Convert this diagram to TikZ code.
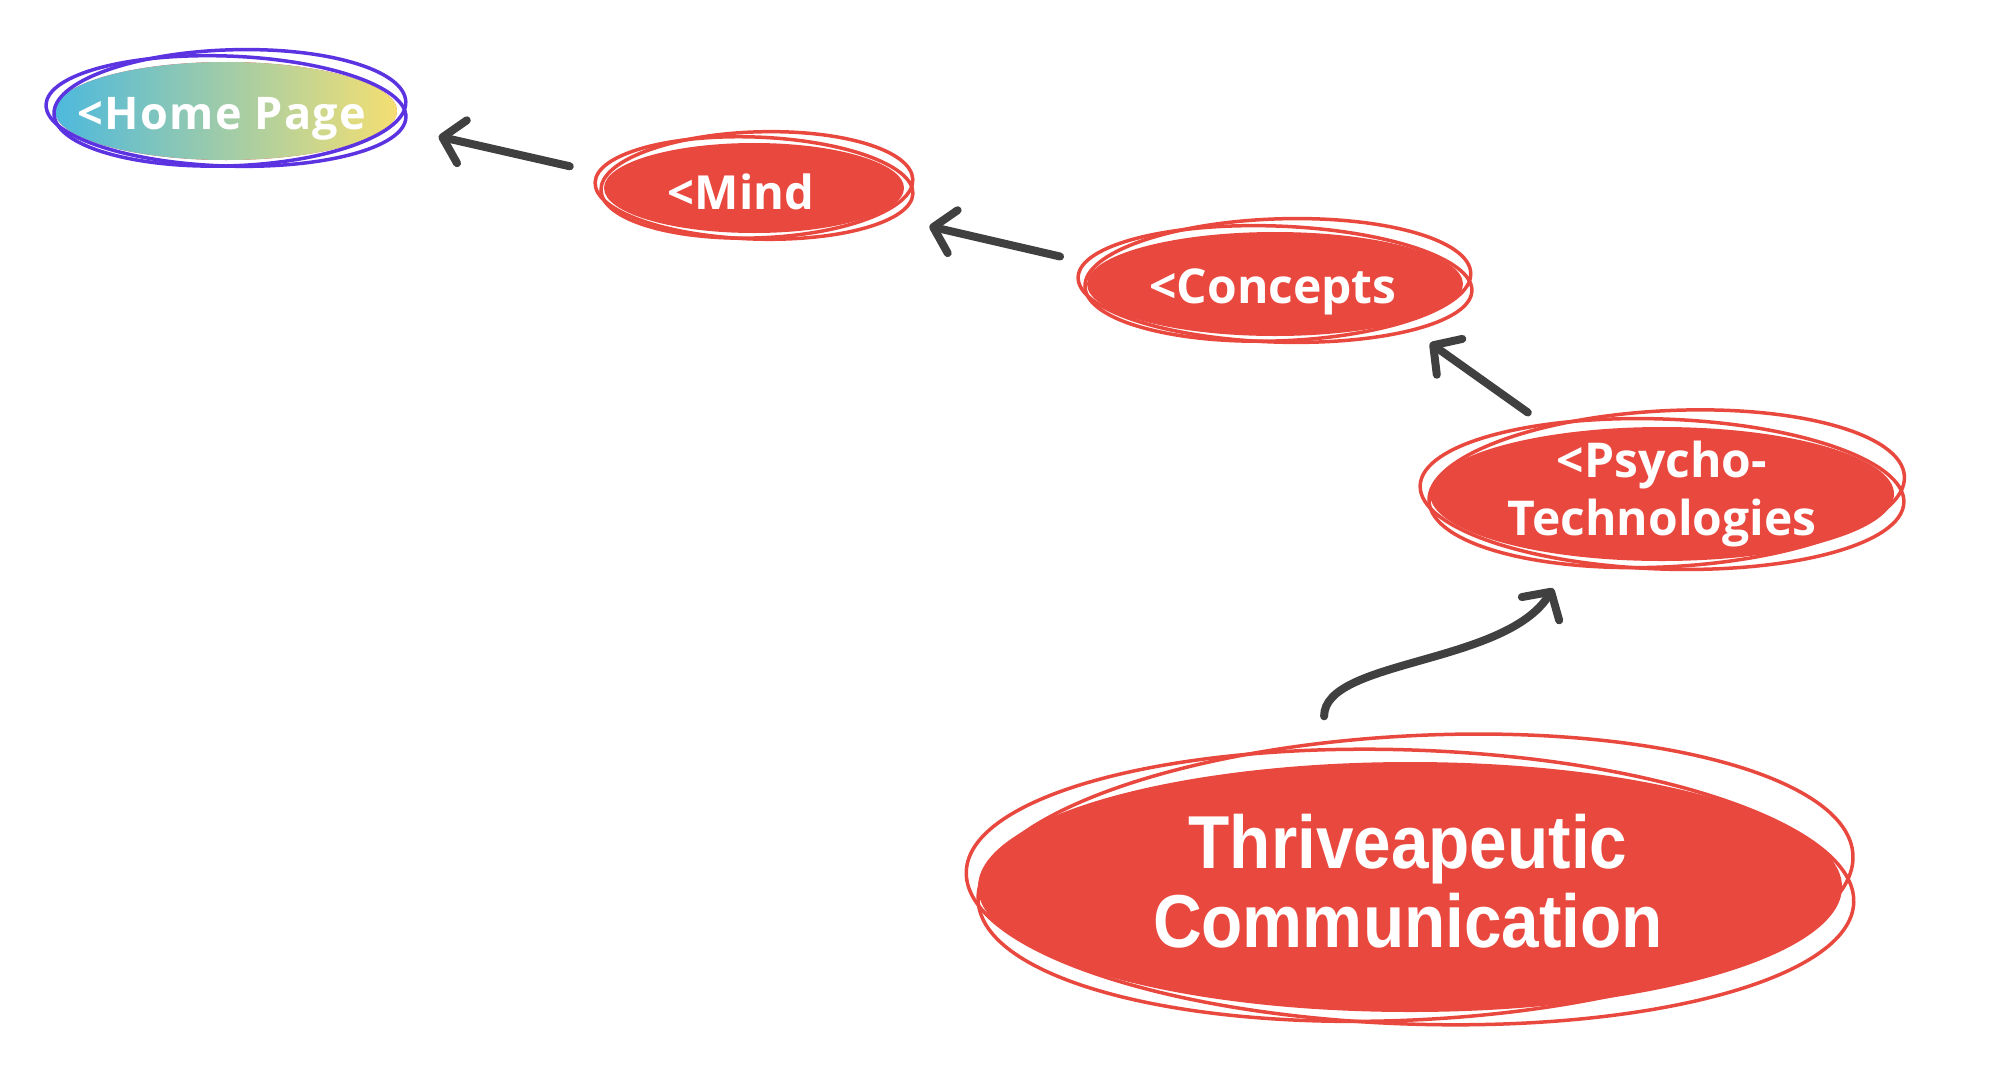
\documentclass[tikz,border=0pt]{standalone}
\usepackage{fontspec}
\setmainfont{Open Sans}
\newfontfamily\angosta[FakeStretch=0.9]{Liberation Sans}
\usetikzlibrary{arrows.meta,shapes.geometric}
\definecolor{rojo}{HTML}{E9483F}
\definecolor{morado}{HTML}{5B33E1}
\definecolor{cian}{HTML}{4DB9DD}
\definecolor{amarillo}{HTML}{F4DF72}
\definecolor{grafito}{HTML}{404040}

\begin{document}
\begin{tikzpicture}[x=1pt,y=-1pt,
    globo/.style={ellipse,inner sep=0pt,fill=rojo},
    trazo/.style={draw=rojo,line width=3.5pt},
    rotulo/.style={text=white,align=center,inner sep=0pt,
                   font=\bfseries\fontsize{48}{58}\selectfont},
    flecha/.style={draw=grafito,line width=8pt,line cap=round,
                   -{Straight Barb[length=20pt,width=44pt,round]}}]
  \useasboundingbox (0,0) rectangle (2004,1082);
  \node[globo,minimum width=342pt,minimum height=98pt,left color=cian,right color=amarillo] (home) at (226,111) {};
  \node[globo,minimum width=300pt,minimum height=90pt] (mind) at (754,188) {};
  \node[globo,minimum width=376pt,minimum height=104pt] (concepts) at (1275,284) {};
  \node[globo,minimum width=464pt,minimum height=134pt] (psy) at (1662,494) {};
  \node[globo,minimum width=864pt,minimum height=250pt] (thrive) at (1410,887) {};
  \draw[trazo,draw=morado,rotate around={-2:(home.center)}] (home.center) ellipse (180pt and 55pt);
  \draw[trazo,draw=morado,rotate around={2:(home.center)}] ([shift={(4,-3)}]home.center) ellipse (176pt and 58pt);
  \draw[trazo,rotate around={-2:(mind.center)}] (mind.center) ellipse (159pt and 51pt);
  \draw[trazo,rotate around={2:(mind.center)}] ([shift={(3,-3)}]mind.center) ellipse (156pt and 53pt);
  \draw[trazo,rotate around={-2:(concepts.center)}] (concepts.center) ellipse (197pt and 58pt);
  \draw[trazo,rotate around={2:(concepts.center)}] ([shift={(3,-4)}]concepts.center) ellipse (193pt and 61pt);
  \draw[trazo,rotate around={-2:(psy.center)}] (psy.center) ellipse (242pt and 75pt);
  \draw[trazo,rotate around={3:(psy.center)}] ([shift={(5,-5)}]psy.center) ellipse (238pt and 78pt);
  \draw[trazo,rotate around={-2:(thrive.center)}] (thrive.center) ellipse (444pt and 137pt);
  \draw[trazo,rotate around={3:(thrive.center)}] ([shift={(6,-9)}]thrive.center) ellipse (438pt and 142pt);
  \node[rotulo,anchor=base,font=\bfseries\fontsize{45}{50}\selectfont\addfontfeature{LetterSpace=3}] (homet) at (222,129) {<Home Page};
  \node[rotulo,anchor=base,font=\bfseries\fontsize{47}{56}\selectfont] (mindt) at (741,209) {<Mind};
  \node[rotulo,anchor=base] (conceptst) at (1273,303) {<Concepts};
  \node[rotulo] (psyt) at (1662,494) {<Psycho-\\Technologies};
  \node[rotulo,font=\angosta\bfseries\fontsize{75}{79}\selectfont] (thrivet) at (1408,881) {Thriveapeutic\\Communication};
  \draw[flecha,shorten <=41pt,shorten >=50pt] (mind.175) -- (home.-5);
  \draw[flecha,shorten <=40pt,shorten >=54pt] (concepts.174) -- (mind.-12);
  \draw[flecha,shorten <=37pt,shorten >=35pt] (psy.150) -- (concepts.-17.5);
  \draw[flecha,shorten <=48pt,shorten >=38pt] (thrive.125) .. controls +(0,-105) and +(-68,109) .. (psy.-145);
\end{tikzpicture}
\end{document}
